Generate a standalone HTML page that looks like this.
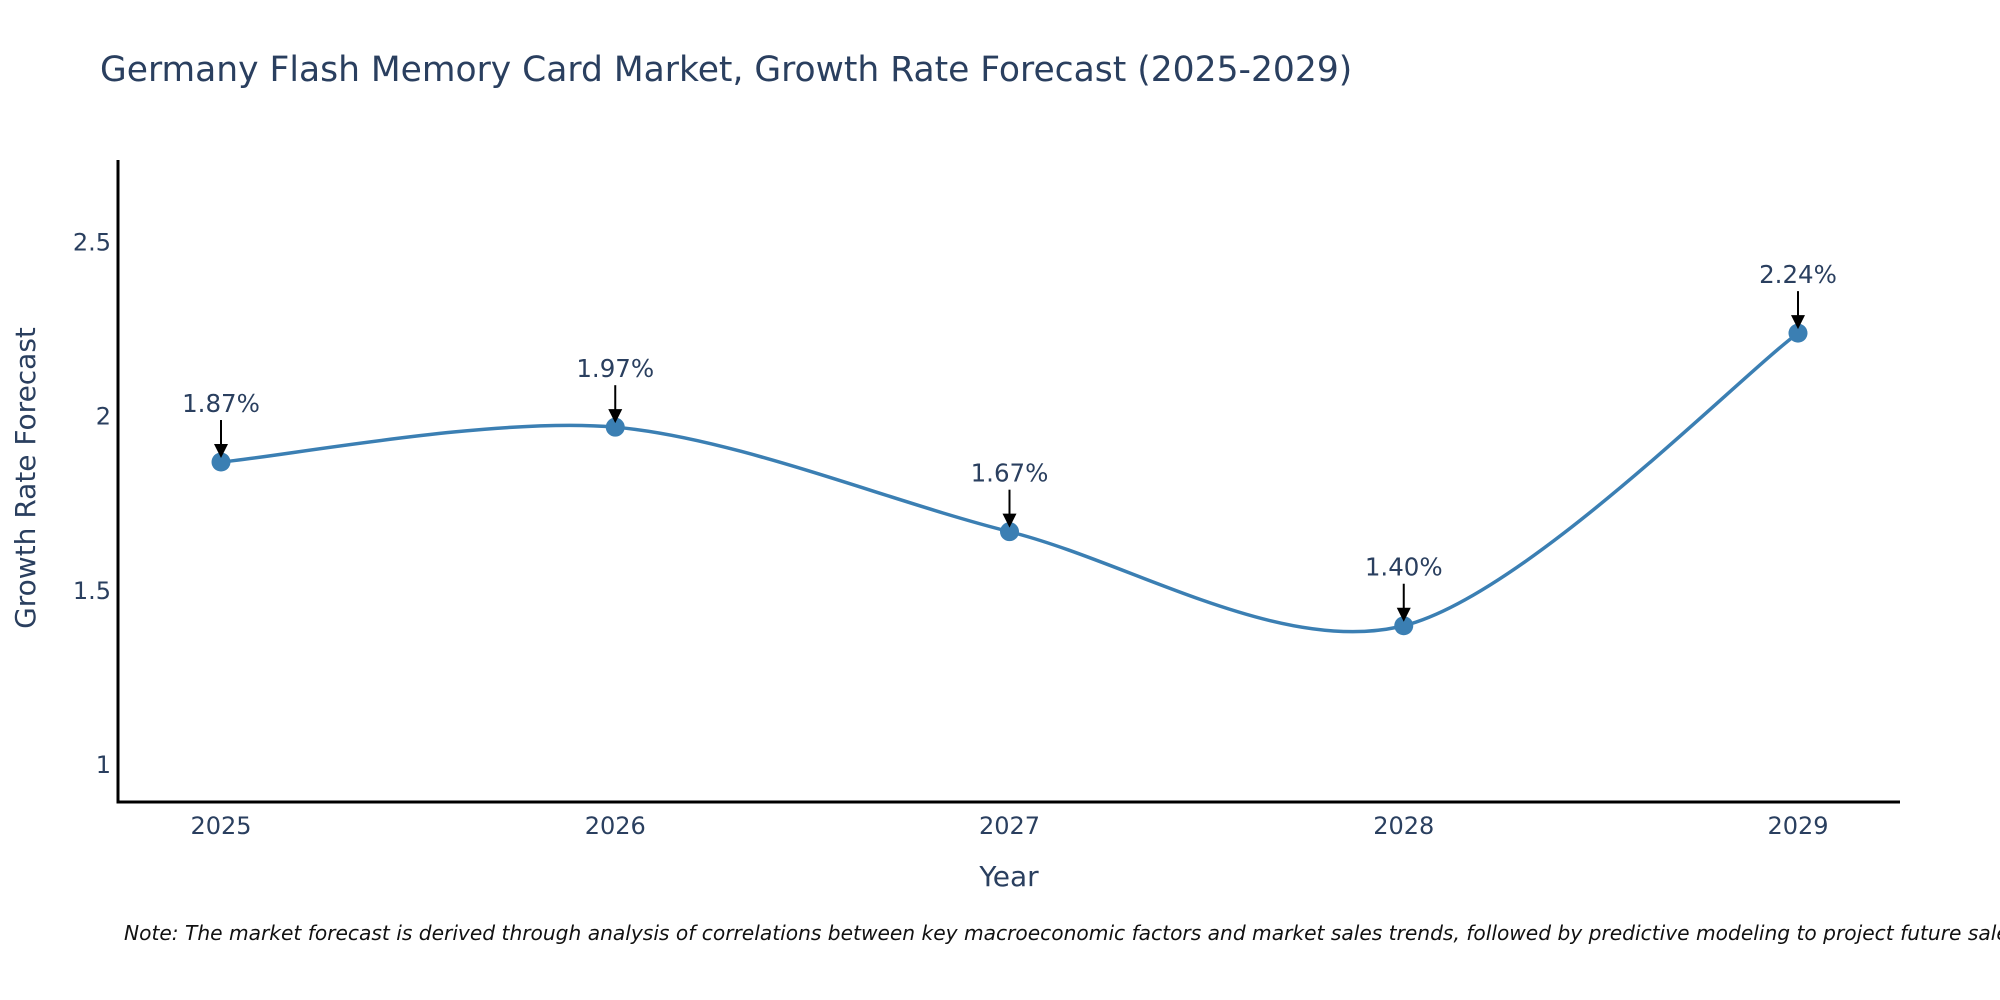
<!DOCTYPE html>
<html><head><meta charset="utf-8"><style>
html,body{margin:0;padding:0;background:#fff;width:2000px;height:1000px;overflow:hidden}
svg text{font-family:"DejaVu Sans","Liberation Sans",sans-serif}
</style></head><body>
<svg id="chart" width="2000" height="1000" viewBox="0 0 2000 1000" xmlns="http://www.w3.org/2000/svg">
<text x="100" y="81" font-size="34.5" fill="#2a3f5f">Germany Flash Memory Card Market, Growth Rate Forecast (2025-2029)</text>
<g id="plot"></g>
<text x="1009" y="886" font-size="28" fill="#2a3f5f" text-anchor="middle">Year</text>
<text x="0" y="0" font-size="28" fill="#2a3f5f" text-anchor="middle" transform="translate(35,478) rotate(-90)">Growth Rate Forecast</text>
<text x="124" y="940" font-size="20.2" font-style="italic" fill="#111">Note: The market forecast is derived through analysis of correlations between key macroeconomic factors and market sales trends, followed by predictive modeling to project future sales.</text>
</svg>
<script>
const years = ["2025","2026","2027","2028","2029"];
const growth = [1.87, 1.97, 1.67, 1.40, 2.24];
const growthLabels = ["1.87%","1.97%","1.67%","1.40%","2.24%"];
const yTicks = [1, 1.5, 2, 2.5];
const yTickLabels = ["1","1.5","2","2.5"];

const NS="http://www.w3.org/2000/svg";
const g=document.getElementById('plot');
const L=118,R=1900,T=160,B=802;
const yMin=0.894,yMax=2.737;
const x0=221,dx=394.25;
function xs(i){return x0+i*dx;}
function ys(v){return B-(v-yMin)/(yMax-yMin)*(B-T);}
function mk(tag,attrs){const e=document.createElementNS(NS,tag);for(const k in attrs)e.setAttribute(k,attrs[k]);g.appendChild(e);return e;}

let ya=mk('line',{x1:L,y1:T,x2:L,y2:B+1.5,stroke:'#000','stroke-width':3});


let xa=mk('line',{x1:L-1.5,y1:B,x2:R,y2:B,stroke:'#000','stroke-width':3});



yTicks.forEach((v,i)=>{
  const t=mk('text',{x:L-7,y:ys(v)+8,'font-size':24,fill:'#2a3f5f','text-anchor':'end'});
  t.textContent=yTickLabels[i];
  
  
});
years.forEach((y,i)=>{
  const t=mk('text',{x:xs(i),y:834,'font-size':24,fill:'#2a3f5f','text-anchor':'middle'});
  t.textContent=y;
  
  
});

const pts=growth.map((v,i)=>[xs(i),ys(v)]);
let d='M'+pts[0][0]+','+pts[0][1];
for(let i=0;i<pts.length-1;i++){
  const p0=pts[Math.max(i-1,0)],p1=pts[i],p2=pts[i+1],p3=pts[Math.min(i+2,pts.length-1)];
  const k=1/6.5;
  const c1=[p1[0]+(p2[0]-p0[0])*k,p1[1]+(p2[1]-p0[1])*k];
  const c2=[p2[0]-(p3[0]-p1[0])*k,p2[1]-(p3[1]-p1[1])*k];
  d+=' C'+c1[0]+','+c1[1]+' '+c2[0]+','+c2[1]+' '+p2[0]+','+p2[1];
}
const line=mk('path',{d:d,fill:'none',stroke:'#3b7fb3','stroke-width':3.5});



growth.forEach((v,i)=>{
  const cx=xs(i),cy=ys(v);
  const c=mk('circle',{cx:cx,cy:cy,r:9.5,fill:'#3b7fb3'});
  
  
  const a=mk('line',{x1:cx,y1:cy-42,x2:cx,y2:cy-16,stroke:'#000','stroke-width':2});
  
  
  const h=mk('polygon',{points:(cx-7)+','+(cy-18)+' '+(cx+7)+','+(cy-18)+' '+cx+','+(cy-4),fill:'#000'});
  
  
  const t=mk('text',{x:cx,y:cy-50,'font-size':24.5,fill:'#2a3f5f','text-anchor':'middle'});
  t.textContent=growthLabels[i];
  
  
});
</script>
</body></html>
